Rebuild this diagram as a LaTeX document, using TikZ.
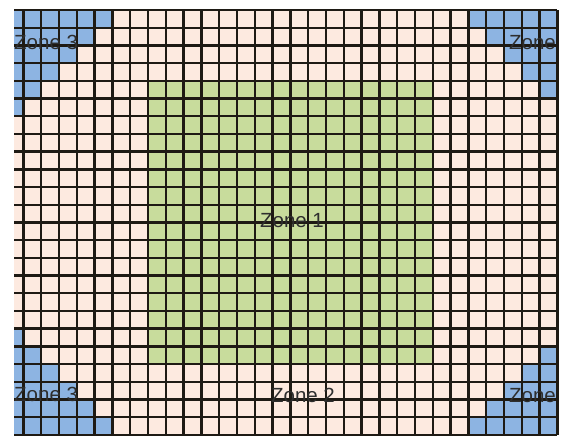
\documentclass[tikz,border=0pt]{standalone}
\usepackage{fontspec}
\setmainfont{Liberation Sans}
\definecolor{beige}{HTML}{FDEAE0}
\definecolor{zgreen}{HTML}{C8DC9C}
\definecolor{zblue}{HTML}{8DB4E2}
\definecolor{gridc}{HTML}{1E1A14}
\begin{document}
\begin{tikzpicture}[x=1pt,y=-1pt,
  gridline/.style={draw=gridc,line width=2.4pt},
  zonelabel/.style={font=\fontsize{20.5}{24}\selectfont, text=black!82, inner sep=0pt}]
\useasboundingbox (0,0) rectangle (562,437);
\fill[beige] (14,10) rectangle (557.4,434.8);
\fill[zgreen] ({23.4+17.8*7},{10+17.7*4}) rectangle ({23.4+17.8*23},{10+17.7*20});
\foreach \r in {0,...,5} {
  \fill[zblue] (14,{10+17.7*\r}) rectangle ({23.4+17.8*(5-\r)},{10+17.7*(\r+1)});
  \fill[zblue] (14,{10+17.7*(23-\r)}) rectangle ({23.4+17.8*(5-\r)},{10+17.7*(24-\r)});
}
\foreach \r in {0,...,4} {
  \fill[zblue] ({23.4+17.8*(25+\r)},{10+17.7*\r}) rectangle (557.4,{10+17.7*(\r+1)});
  \fill[zblue] ({23.4+17.8*(25+\r)},{10+17.7*(23-\r)}) rectangle (557.4,{10+17.7*(24-\r)});
}
\foreach \k in {0,...,30} \draw[gridline] ({23.4+17.8*\k},10) -- ({23.4+17.8*\k},434.8);
\foreach \r in {0,...,24} \draw[gridline] (14,{10+17.7*\r}) -- (557.4,{10+17.7*\r});
\node[zonelabel] (z1) at (292,221) {Zone 1};
\node[zonelabel] (z2) at (303,395) {Zone 2};
\node[zonelabel,anchor=west] (z3tl) at (14,42) {Zone 3};
\node[zonelabel,anchor=east] (z3tr) at (556,43) {Zone};
\node[zonelabel,anchor=west] (z3bl) at (14,394) {Zone 3};
\node[zonelabel,anchor=east] (z3br) at (556,396) {Zone};
\end{tikzpicture}
\end{document}
